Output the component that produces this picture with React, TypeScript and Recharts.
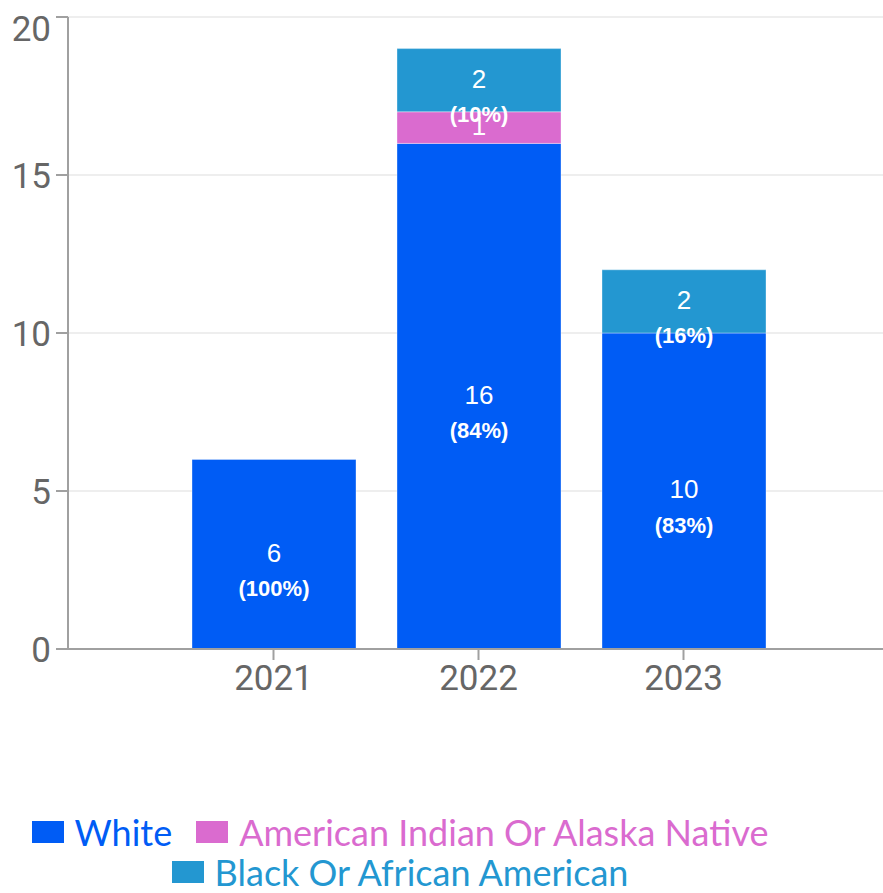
import React from 'react';
import { BarChart, Bar, XAxis, YAxis, CartesianGrid, LabelList } from 'recharts';

const years = ['2021', '2022', '2023'];
const whiteCounts = [6, 16, 10];
const nativeCounts = [0, 1, 0];
const blackCounts = [0, 2, 2];
const yTicks = [0, 5, 10, 15, 20];

const series = [
    { key: 'white', name: 'White', color: '#005cf5', values: whiteCounts },
    { key: 'native', name: 'American Indian Or Alaska Native', color: '#da6bcf', values: nativeCounts },
    { key: 'black', name: 'Black Or African American', color: '#2397d1', values: blackCounts },
];

const rows = years.map((year, i) => {
    const row: any = { year, total: 0 };
    series.forEach((s) => {
        row[s.key] = s.values[i];
        row.total += s.values[i];
    });
    return row;
});

// "count|percent" so the label renderer has both
const labelText = (key: string) => (row: any) =>
    row[key] ? `${row[key]}|${Math.floor((row[key] / row.total) * 100)}` : '';

const SegmentLabel = (props: any) => {
    const { x, y, width, height, value } = props;
    if (!value) return null;
    const [count, pct] = String(value).split('|');
    const cx = x + width / 2;
    const cy = y + height / 2;
    return (
        <g fontFamily="'Liberation Sans', Arial, sans-serif" fill="#fff">
            <text x={cx} y={cy - 2} textAnchor="middle" dy="0.36em" fontSize={26}>{count}</text>
            {height > 40 && (
                <text x={cx} y={cy + 34} textAnchor="middle" dy="0.36em" fontSize={22} fontWeight="bold">({pct}%)</text>
            )}
        </g>
    );
};

const YTick = ({ x, y, payload }: any) => (
    <text x={x} y={Math.max(y, 28)} dy="0.36em" textAnchor="end" fontSize={35} fill="#666" fontFamily="Roboto, Arial, sans-serif">
        {payload.value}
    </text>
);

export default function App() {
    return (
        <div style={{ position: 'absolute', left: 0, top: 0, width: 883, height: 893, overflow: 'hidden', background: '#fff' }}>
            <BarChart width={900} height={720} data={rows} margin={{ top: 17, right: 11, left: 0, bottom: 21 }}>
                <CartesianGrid vertical={false} stroke="#e8e8e8" strokeWidth={1.5} />
                <XAxis
                    dataKey="year"
                    height={50}
                    padding={{ left: 103, right: 103 }}
                    stroke="#a0a0a0"
                    strokeWidth={2}
                    tickSize={11}
                    tickMargin={5}
                    tick={{ fontSize: 35, fill: '#666', fontFamily: 'Roboto, Arial, sans-serif' }}
                />
                <YAxis
                    width={68}
                    domain={[0, 20]}
                    ticks={yTicks}
                    stroke="#a0a0a0"
                    strokeWidth={2}
                    tickSize={12}
                    tickMargin={5}
                    tick={<YTick />}
                />
                {series.map((s) => (
                    <Bar
                        key={s.key}
                        dataKey={s.key}
                        name={s.name}
                        stackId="a"
                        fill={s.color}
                        stroke="rgba(255,255,255,0.35)"
                        barSize={164}
                        isAnimationActive={false}
                    >
                        <LabelList dataKey={labelText(s.key)} content={<SegmentLabel />} />
                    </Bar>
                ))}
            </BarChart>

            <div
                style={{
                    position: 'absolute',
                    top: 812,
                    left: 0,
                    width: 800,
                    display: 'flex',
                    flexWrap: 'wrap',
                    justifyContent: 'center',
                    columnGap: 24,
                    fontFamily: 'Lato, sans-serif',
                }}
            >
                {series.map((s) => (
                    <div key={s.key} style={{ display: 'flex', alignItems: 'center', height: 40 }}>
                        <span style={{ width: 32, height: 22, background: s.color, marginRight: 11, display: 'inline-block' }} />
                        <span style={{ color: s.color, fontSize: 36, lineHeight: '40px', whiteSpace: 'nowrap' }}>{s.name}</span>
                    </div>
                ))}
            </div>
        </div>
    );
}
